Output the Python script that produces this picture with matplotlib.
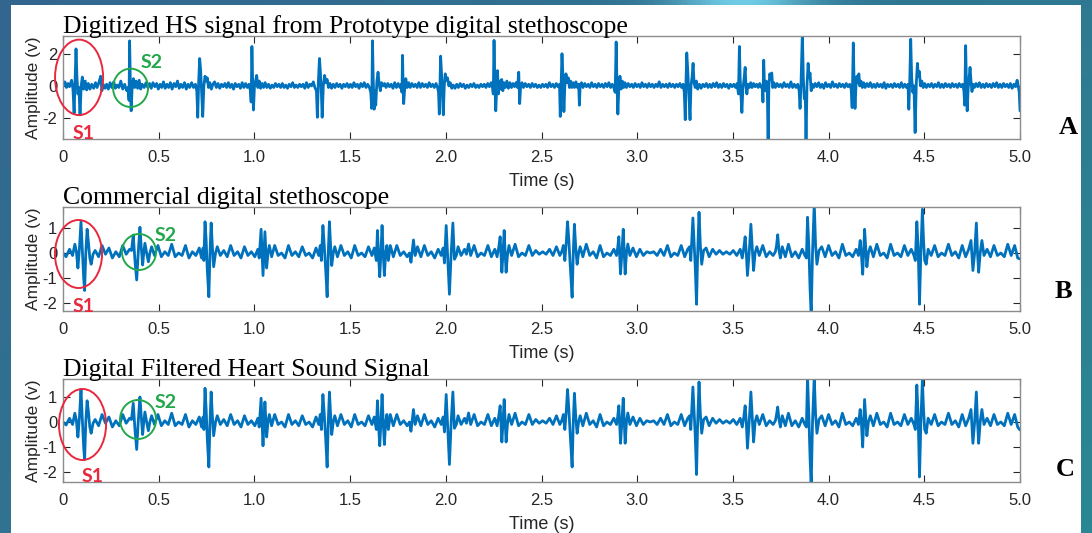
import numpy as np
import matplotlib
matplotlib.use("Agg")
import matplotlib.pyplot as plt
from matplotlib.patches import Ellipse, Rectangle

plt.rcParams["font.family"] = ["Liberation Sans", "DejaVu Sans"]
plt.rcParams["axes.unicode_minus"] = False

W, H = 1092, 533

# ---------------------------------------------------------------------------
# Heart-sound traces: (time in s, amplitude in V) vertices
# ---------------------------------------------------------------------------
trace_prototype = [
    (0.000, 0.05), (0.010, 0.25), (0.018, -0.1), (0.026, 0.15), (0.034, -0.05), (0.045, 0.35),
    (0.052, -0.2), (0.058, -1.7), (0.063, 0.3), (0.068, 2.3), (0.073, 0.5), (0.078, -0.5),
    (0.083, -0.1), (0.089, -1.8), (0.095, 0.0), (0.101, 0.55), (0.108, -0.2), (0.116, 0.3),
    (0.124, -0.25), (0.132, 0.15), (0.141, -0.2), (0.150, 0.1), (0.160, -0.15), (0.170, 0.2),
    (0.178, -0.1), (0.186, 0.15), (0.197, 0.6), (0.203, -0.3), (0.210, 0.1), (0.220, -0.15),
    (0.228, 0.1), (0.237, -0.2), (0.246, 0.2), (0.255, -0.1), (0.265, 0.25), (0.274, -0.15),
    (0.283, 0.05), (0.292, -0.1), (0.302, 0.3), (0.312, -0.2), (0.322, 0.1), (0.333, -0.3),
    (0.340, -0.1), (0.345, -0.9), (0.348, 2.8), (0.352, 0.2), (0.356, -1.55), (0.361, -0.2),
    (0.368, 0.45), (0.375, -0.1), (0.382, 0.3), (0.390, -0.15), (0.398, 0.35), (0.406, -0.2),
    (0.414, 0.1), (0.424, -0.1), (0.434, 0.2), (0.443, -0.1), (0.452, 0.15), (0.461, -0.15),
    (0.470, 0.2), (0.480, -0.05), (0.489, 0.15), (0.498, -0.2), (0.507, 0.1), (0.516, -0.1),
    (0.525, 0.25), (0.534, -0.15), (0.543, 0.1), (0.552, -0.1), (0.561, 0.2), (0.570, -0.2),
    (0.580, 0.15), (0.589, -0.05), (0.598, 0.3), (0.607, -0.15), (0.616, 0.1), (0.625, -0.1),
    (0.635, 0.2), (0.644, -0.2), (0.653, 0.1), (0.662, -0.1), (0.672, 0.2), (0.682, -0.1),
    (0.692, 0.1), (0.699, -0.3), (0.704, -1.95), (0.709, 0.3), (0.714, 1.7), (0.719, 1.0),
    (0.724, -0.3), (0.730, -1.9), (0.736, 0.0), (0.742, 0.6), (0.748, 0.3), (0.754, 0.5),
    (0.760, -0.1), (0.767, 0.2), (0.775, -0.2), (0.783, 0.1), (0.792, 0.25), (0.801, -0.1),
    (0.810, 0.15), (0.819, -0.15), (0.828, 0.1), (0.837, -0.05), (0.846, 0.15), (0.855, -0.1),
    (0.864, 0.2), (0.873, -0.1), (0.882, 0.1), (0.891, -0.2), (0.900, 0.15), (0.909, -0.05),
    (0.918, 0.1), (0.927, -0.15), (0.936, 0.2), (0.945, -0.1), (0.954, 0.15), (0.963, -0.1),
    (0.972, 0.1), (0.979, -0.3), (0.983, -1.0), (0.987, 2.45), (0.991, 0.2), (0.995, -1.5),
    (1.000, -0.1), (1.006, 0.3), (1.012, 0.65), (1.018, -0.1), (1.025, 0.3), (1.032, -0.15),
    (1.040, 0.15), (1.048, -0.1), (1.056, 0.2), (1.065, -0.1), (1.074, 0.1), (1.083, -0.15),
    (1.092, 0.05), (1.101, -0.1), (1.110, 0.15), (1.119, -0.05), (1.128, 0.1), (1.137, -0.1),
    (1.146, 0.15), (1.155, -0.1), (1.164, 0.05), (1.173, -0.15), (1.182, 0.1), (1.191, -0.05),
    (1.200, 0.2), (1.209, -0.1), (1.218, 0.05), (1.227, -0.1), (1.236, 0.1), (1.245, -0.05),
    (1.254, 0.1), (1.263, -0.15), (1.272, 0.2), (1.281, -0.1), (1.290, 0.1), (1.299, 0.0),
    (1.308, 0.25), (1.316, -0.1), (1.324, -0.3), (1.329, -1.95), (1.334, 0.2), (1.340, 1.7),
    (1.345, 0.8), (1.350, -0.5), (1.354, -1.95), (1.360, 0.0), (1.367, 0.65), (1.373, 0.2),
    (1.380, 0.4), (1.387, -0.1), (1.395, 0.15), (1.403, -0.15), (1.412, 0.1), (1.421, -0.1),
    (1.430, 0.15), (1.439, -0.05), (1.448, 0.1), (1.457, -0.15), (1.466, 0.1), (1.475, -0.05),
    (1.484, 0.15), (1.493, -0.1), (1.502, 0.1), (1.511, -0.1), (1.520, 0.2), (1.529, -0.05),
    (1.538, 0.1), (1.547, -0.15), (1.556, 0.15), (1.565, -0.05), (1.574, 0.2), (1.583, -0.1),
    (1.592, 0.1), (1.601, -0.1), (1.608, -0.4), (1.613, -1.4), (1.617, 2.8), (1.621, 0.3),
    (1.626, -1.45), (1.630, -0.3), (1.634, -1.2), (1.640, 0.3), (1.646, 0.85), (1.652, 0.1),
    (1.658, -0.3), (1.664, 0.2), (1.672, 0.0), (1.680, 0.15), (1.688, -0.1), (1.697, 0.15),
    (1.706, -0.05), (1.715, 0.1), (1.724, -0.15), (1.733, 0.2), (1.742, -0.1), (1.751, 0.15),
    (1.760, -0.1), (1.767, 0.1), (1.771, -0.4), (1.774, 1.9), (1.777, 0.0), (1.780, -1.1),
    (1.785, -0.2), (1.791, 0.45), (1.798, -0.1), (1.806, 0.2), (1.814, -0.1), (1.823, 0.15),
    (1.832, -0.05), (1.841, 0.1), (1.850, -0.1), (1.859, 0.2), (1.868, -0.1), (1.877, 0.15),
    (1.886, -0.05), (1.895, 0.1), (1.904, -0.1), (1.913, 0.2), (1.922, -0.05), (1.931, 0.1),
    (1.940, -0.1), (1.949, 0.15), (1.957, -0.1), (1.962, -0.4), (1.966, -1.75), (1.970, 0.2),
    (1.973, 1.85), (1.978, 0.7), (1.982, -0.4), (1.987, -1.8), (1.992, 0.0), (1.997, 0.75),
    (2.003, 0.35), (2.009, 0.5), (2.016, 0.0), (2.023, 0.2), (2.031, -0.15), (2.039, 0.05),
    (2.048, -0.15), (2.057, 0.1), (2.066, -0.1), (2.075, 0.15), (2.084, -0.05), (2.093, 0.1),
    (2.102, -0.15), (2.111, 0.05), (2.120, -0.1), (2.129, 0.1), (2.138, -0.05), (2.147, 0.15),
    (2.156, -0.1), (2.165, 0.05), (2.174, -0.1), (2.183, 0.1), (2.192, -0.05), (2.201, 0.1),
    (2.210, -0.1), (2.219, 0.15), (2.228, -0.05), (2.237, 0.2), (2.244, -0.1), (2.248, -0.5),
    (2.252, 2.83), (2.256, 0.3), (2.261, -1.55), (2.266, -0.1), (2.270, 0.95), (2.275, -0.5),
    (2.280, 0.3), (2.286, -0.2), (2.292, 0.4), (2.298, -0.3), (2.304, 0.2), (2.311, -0.1),
    (2.319, 0.3), (2.327, -0.15), (2.335, 0.2), (2.343, -0.1), (2.351, 0.15), (2.359, -0.05),
    (2.367, 0.2), (2.375, -0.1), (2.381, 0.85), (2.386, -1.1), (2.391, 0.0), (2.398, 0.2),
    (2.406, -0.1), (2.415, 0.15), (2.424, -0.05), (2.433, 0.1), (2.442, -0.1), (2.451, 0.15),
    (2.460, -0.05), (2.469, 0.1), (2.478, -0.1), (2.487, 0.05), (2.496, -0.1), (2.505, 0.1),
    (2.514, -0.05), (2.523, 0.1), (2.532, -0.1), (2.541, 0.2), (2.550, -0.05), (2.559, 0.1),
    (2.568, -0.1), (2.577, 0.15), (2.586, -0.05), (2.594, 0.1), (2.598, -1.9), (2.603, 0.3),
    (2.607, 2.0), (2.612, 0.6), (2.617, -1.6), (2.622, 0.0), (2.628, 0.75), (2.634, 0.2),
    (2.640, 0.5), (2.646, -0.1), (2.652, 0.3), (2.658, -0.1), (2.665, 0.2), (2.672, -0.1),
    (2.680, 0.25), (2.688, -0.1), (2.694, 0.1), (2.698, -1.2), (2.702, 0.0), (2.709, 0.2),
    (2.717, -0.1), (2.726, 0.15), (2.735, -0.05), (2.744, 0.1), (2.753, -0.1), (2.762, 0.2),
    (2.771, -0.05), (2.780, 0.1), (2.789, -0.1), (2.798, 0.15), (2.807, -0.05), (2.816, 0.1),
    (2.825, -0.1), (2.834, 0.15), (2.843, -0.05), (2.852, 0.2), (2.861, -0.1), (2.870, 0.1),
    (2.879, -0.15), (2.885, -0.4), (2.890, 2.73), (2.894, 0.3), (2.899, -1.75), (2.904, -0.1),
    (2.910, 0.6), (2.916, -0.2), (2.922, 0.3), (2.929, -0.1), (2.936, 0.2), (2.944, -0.1),
    (2.953, 0.15), (2.962, -0.05), (2.971, 0.1), (2.980, -0.1), (2.989, 0.15), (2.998, -0.05),
    (3.007, 0.1), (3.016, -0.1), (3.025, 0.2), (3.034, -0.05), (3.043, 0.1), (3.052, -0.1),
    (3.061, 0.15), (3.070, -0.05), (3.079, 0.1), (3.088, -0.1), (3.097, 0.1), (3.106, -0.05),
    (3.115, 0.25), (3.124, -0.1), (3.133, 0.1), (3.142, -0.05), (3.151, 0.1), (3.160, -0.1),
    (3.169, 0.15), (3.178, -0.05), (3.187, 0.1), (3.196, -0.1), (3.205, 0.1), (3.214, -0.05),
    (3.223, 0.15), (3.232, -0.1), (3.240, 0.1), (3.246, -0.4), (3.251, -2.1), (3.255, 0.3),
    (3.259, 2.05), (3.264, 1.0), (3.270, -0.5), (3.276, -2.1), (3.281, 0.0), (3.287, 0.6),
    (3.292, 1.4), (3.297, 0.2), (3.303, -0.1), (3.309, 0.3), (3.316, -0.2), (3.325, 0.1),
    (3.334, -0.15), (3.343, 0.1), (3.352, -0.05), (3.361, 0.15), (3.370, -0.1), (3.379, 0.1),
    (3.388, -0.1), (3.397, 0.15), (3.406, -0.05), (3.415, 0.2), (3.424, -0.1), (3.433, 0.1),
    (3.442, -0.1), (3.451, 0.15), (3.460, -0.05), (3.469, 0.1), (3.478, -0.15), (3.487, 0.1),
    (3.496, -0.05), (3.505, 0.1), (3.514, -0.1), (3.522, 0.15), (3.529, -0.5), (3.534, 2.45),
    (3.538, 0.5), (3.542, -0.6), (3.547, -1.65), (3.552, -0.2), (3.558, 0.4), (3.564, 1.15),
    (3.568, 0.1), (3.573, -0.5), (3.579, 0.1), (3.586, -0.1), (3.593, 0.2), (3.600, -0.1),
    (3.608, 0.15), (3.616, -0.05), (3.624, 0.1), (3.632, -0.1), (3.640, 0.15), (3.648, -0.1),
    (3.654, 0.0), (3.657, -1.0), (3.661, 1.6), (3.665, 0.0), (3.670, -0.3), (3.675, 0.3),
    (3.680, -0.5), (3.684, -3.6), (3.688, 0.0), (3.693, 0.75), (3.698, 0.4), (3.703, 0.8),
    (3.708, -0.1), (3.714, 0.2), (3.722, -0.1), (3.731, 0.15), (3.740, -0.05), (3.749, 0.1),
    (3.758, -0.1), (3.767, 0.2), (3.776, -0.05), (3.785, 0.1), (3.794, -0.1), (3.803, 0.25),
    (3.812, -0.1), (3.821, 0.1), (3.830, -0.1), (3.839, 0.1), (3.846, -0.3), (3.851, -1.4),
    (3.856, 0.2), (3.863, 3.3), (3.868, 0.5), (3.873, -0.8), (3.878, -0.4), (3.882, -3.6),
    (3.887, 0.0), (3.893, 1.4), (3.898, 0.5), (3.903, 0.8), (3.909, -0.3), (3.915, 0.1),
    (3.922, -0.1), (3.930, 0.15), (3.939, -0.05), (3.948, 0.2), (3.957, -0.1), (3.966, 0.1),
    (3.975, -0.15), (3.984, 0.2), (3.993, -0.05), (4.002, 0.1), (4.011, -0.1), (4.020, 0.25),
    (4.029, -0.05), (4.038, 0.1), (4.047, -0.1), (4.056, 0.15), (4.065, -0.05), (4.074, 0.1),
    (4.083, -0.1), (4.092, 0.15), (4.101, -0.05), (4.110, 0.1), (4.118, -0.2), (4.123, -1.35),
    (4.129, 2.67), (4.133, 0.3), (4.138, -1.4), (4.143, 0.0), (4.148, 0.6), (4.153, 0.2),
    (4.158, 0.75), (4.163, 0.0), (4.169, 0.3), (4.176, -0.1), (4.183, 0.2), (4.191, -0.1),
    (4.200, 0.15), (4.209, -0.05), (4.218, 0.2), (4.227, -0.1), (4.236, 0.1), (4.245, -0.1),
    (4.254, 0.15), (4.263, -0.05), (4.272, 0.1), (4.281, -0.1), (4.290, 0.2), (4.299, -0.15),
    (4.308, 0.1), (4.317, -0.05), (4.326, 0.1), (4.335, -0.1), (4.344, 0.15), (4.353, -0.05),
    (4.362, 0.1), (4.371, -0.1), (4.380, 0.2), (4.389, -0.1), (4.398, 0.1), (4.407, -0.1),
    (4.415, 0.1), (4.419, -1.45), (4.424, 0.3), (4.429, 2.9), (4.434, 0.5), (4.440, -0.4),
    (4.446, 0.0), (4.452, -2.9), (4.458, 0.1), (4.464, 1.4), (4.469, 0.6), (4.474, 0.9),
    (4.480, 0.0), (4.487, 0.3), (4.494, -0.1), (4.502, 0.15), (4.511, -0.1), (4.520, 0.1),
    (4.529, -0.05), (4.538, 0.15), (4.547, -0.1), (4.556, 0.1), (4.565, -0.05), (4.574, 0.2),
    (4.583, -0.1), (4.592, 0.1), (4.601, -0.1), (4.610, 0.15), (4.619, -0.05), (4.628, 0.1),
    (4.637, -0.1), (4.646, 0.15), (4.655, -0.05), (4.664, 0.1), (4.673, -0.1), (4.682, 0.15),
    (4.691, -0.05), (4.700, 0.1), (4.707, -0.3), (4.711, -1.2), (4.716, 2.5), (4.720, 0.2),
    (4.724, -1.55), (4.729, -0.2), (4.734, 0.5), (4.739, 1.15), (4.744, 0.3), (4.749, -0.35),
    (4.755, 0.1), (4.762, -0.1), (4.770, 0.15), (4.779, -0.05), (4.788, 0.2), (4.797, -0.1),
    (4.806, 0.1), (4.815, -0.1), (4.824, 0.15), (4.833, -0.05), (4.842, 0.1), (4.851, -0.1),
    (4.860, 0.15), (4.869, -0.05), (4.878, 0.2), (4.887, -0.1), (4.896, 0.1), (4.905, -0.1),
    (4.914, 0.15), (4.923, -0.05), (4.932, 0.1), (4.941, -0.1), (4.950, 0.15), (4.959, -0.15),
    (4.968, 0.1), (4.977, -0.05), (4.985, 0.35), (4.992, -0.1), (4.996, -0.4), (5.000, -1.55),
]

trace_commercial = [
    (0.000, 0.0), (0.016, -0.15), (0.034, 0.15), (0.050, -0.1), (0.062, 0.35), (0.070, 0.05),
    (0.078, -0.6), (0.086, 0.2), (0.094, 1.25), (0.101, 0.1), (0.108, -1.0), (0.113, -1.5),
    (0.119, 0.0), (0.126, 0.95), (0.133, 0.4), (0.140, -0.2), (0.147, -0.45), (0.157, -0.05),
    (0.168, 0.1), (0.186, -0.15), (0.204, 0.3), (0.222, -0.05), (0.240, 0.2), (0.258, -0.2),
    (0.276, 0.05), (0.294, -0.15), (0.312, 0.3), (0.330, -0.05), (0.348, 0.15), (0.358, 0.1),
    (0.367, 0.72), (0.376, -0.3), (0.385, -1.08), (0.393, 0.0), (0.402, 1.03), (0.409, 0.2),
    (0.416, -0.48), (0.422, 0.0), (0.428, 0.39), (0.437, 0.0), (0.446, -0.35), (0.454, 0.0),
    (0.463, 0.25), (0.478, -0.1), (0.496, 0.3), (0.514, -0.15), (0.532, 0.05), (0.550, -0.1),
    (0.568, 0.35), (0.586, -0.15), (0.604, 0.0), (0.622, -0.1), (0.640, 0.3), (0.658, -0.2),
    (0.676, 0.05), (0.694, -0.1), (0.712, 0.2), (0.724, -0.2), (0.732, 0.2), (0.736, -0.3),
    (0.742, 1.25), (0.748, 0.5), (0.754, -0.7), (0.762, -1.75), (0.768, 0.0), (0.774, 1.2),
    (0.780, 0.3), (0.787, -0.55), (0.797, 0.0), (0.806, 0.25), (0.822, -0.1), (0.840, 0.1),
    (0.858, -0.15), (0.876, 0.3), (0.894, -0.1), (0.912, 0.05), (0.930, -0.2), (0.948, 0.25),
    (0.966, -0.1), (0.984, 0.05), (1.002, -0.15), (1.018, 0.15), (1.025, -0.2), (1.035, 0.95),
    (1.040, 0.0), (1.045, -0.9), (1.050, 0.0), (1.055, 0.85), (1.060, 0.0), (1.064, -0.6),
    (1.071, 0.0), (1.078, 0.3), (1.090, -0.15), (1.106, 0.3), (1.124, -0.1), (1.142, 0.0),
    (1.160, -0.2), (1.178, 0.3), (1.196, -0.1), (1.214, 0.05), (1.232, -0.15), (1.250, 0.25),
    (1.268, -0.1), (1.286, 0.0), (1.304, -0.2), (1.322, 0.2), (1.336, -0.1), (1.344, 0.3),
    (1.350, -0.3), (1.358, 1.1), (1.365, 0.3), (1.372, -0.6), (1.380, -1.75), (1.386, 0.0),
    (1.392, 1.25), (1.398, 0.3), (1.404, -0.5), (1.412, 0.0), (1.420, 0.25), (1.434, -0.15),
    (1.452, 0.3), (1.470, -0.1), (1.488, 0.05), (1.506, -0.2), (1.524, 0.3), (1.542, -0.1),
    (1.560, 0.0), (1.578, -0.15), (1.596, 0.25), (1.614, -0.1), (1.626, 0.2), (1.637, -0.3),
    (1.643, 0.9), (1.649, -0.2), (1.655, -0.95), (1.661, 0.0), (1.667, 1.1), (1.673, 0.0),
    (1.679, -0.9), (1.686, 0.0), (1.692, 0.3), (1.700, -0.3), (1.710, 0.3), (1.726, -0.15),
    (1.744, 0.3), (1.762, -0.1), (1.780, 0.05), (1.798, -0.15), (1.810, 0.0), (1.818, -0.37),
    (1.825, 0.1), (1.831, 0.52), (1.840, -0.1), (1.852, 0.25), (1.870, -0.15), (1.888, 0.3),
    (1.906, -0.1), (1.924, 0.05), (1.942, -0.2), (1.960, 0.15), (1.976, -0.1), (1.986, 0.2),
    (1.993, -0.4), (2.002, 1.1), (2.010, -0.2), (2.019, -1.65), (2.028, 0.0), (2.037, 1.2),
    (2.045, -0.25), (2.055, -0.1), (2.064, 0.25), (2.080, -0.1), (2.098, 0.15), (2.108, -0.05),
    (2.119, 0.36), (2.130, -0.1), (2.148, 0.3), (2.166, -0.15), (2.184, 0.0), (2.202, -0.1),
    (2.220, 0.3), (2.238, -0.15), (2.256, 0.15), (2.268, -0.15), (2.276, 0.2), (2.284, 0.65),
    (2.293, -0.77), (2.299, 0.0), (2.305, 0.9), (2.310, 0.0), (2.315, -0.77), (2.322, -0.1),
    (2.330, 0.3), (2.344, -0.1), (2.362, 0.35), (2.380, -0.15), (2.398, 0.0), (2.416, -0.1),
    (2.434, 0.3), (2.452, -0.1), (2.470, 0.1), (2.488, -0.05), (2.506, 0.05), (2.524, -0.05),
    (2.542, 0.15), (2.560, -0.1), (2.578, 0.25), (2.596, -0.1), (2.608, 0.1), (2.614, 0.3),
    (2.622, -0.3), (2.630, 0.5), (2.636, 1.25), (2.643, 0.5), (2.650, -0.5), (2.660, -1.77),
    (2.666, 0.0), (2.672, 1.15), (2.679, 0.2), (2.686, -0.45), (2.694, 0.0), (2.702, 0.25),
    (2.716, -0.15), (2.734, 0.35), (2.752, -0.1), (2.770, 0.05), (2.788, -0.2), (2.806, 0.3),
    (2.824, -0.15), (2.842, 0.0), (2.860, -0.1), (2.878, 0.15), (2.892, -0.1), (2.898, 0.2),
    (2.904, 0.65), (2.913, -0.84), (2.920, 0.0), (2.927, 0.95), (2.932, 0.0), (2.937, -0.84),
    (2.944, 0.0), (2.951, 0.36), (2.962, -0.1), (2.978, 0.2), (2.996, -0.15), (3.014, 0.15),
    (3.032, -0.1), (3.050, 0.05), (3.068, 0.0), (3.086, 0.05), (3.104, -0.1), (3.122, 0.15),
    (3.140, -0.1), (3.158, 0.3), (3.176, -0.15), (3.194, 0.0), (3.212, -0.1), (3.230, 0.3),
    (3.248, -0.15), (3.264, 0.15), (3.274, 0.25), (3.280, -0.3), (3.291, 1.4), (3.298, 0.3),
    (3.303, -0.5), (3.310, -2.05), (3.316, 0.0), (3.323, 1.63), (3.330, 0.3), (3.337, -0.45),
    (3.347, 0.1), (3.360, 0.2), (3.376, -0.15), (3.394, 0.15), (3.412, -0.05), (3.430, 0.1),
    (3.448, -0.05), (3.466, 0.05), (3.484, -0.05), (3.502, 0.1), (3.520, -0.1), (3.538, 0.15),
    (3.549, -0.2), (3.557, 0.2), (3.564, 0.65), (3.570, 0.0), (3.576, -0.9), (3.585, 0.0),
    (3.594, 1.15), (3.601, 0.2), (3.608, -0.7), (3.616, 0.0), (3.625, 0.25), (3.638, -0.1),
    (3.656, 0.3), (3.674, -0.15), (3.692, 0.05), (3.710, -0.1), (3.722, 0.05), (3.728, 0.3),
    (3.734, 0.73), (3.741, 0.1), (3.748, -0.2), (3.758, 0.25), (3.774, -0.15), (3.790, 0.35),
    (3.808, -0.15), (3.826, 0.05), (3.844, -0.2), (3.862, 0.15), (3.876, -0.1), (3.884, -0.2),
    (3.890, 1.43), (3.897, 0.2), (3.903, -1.4), (3.909, -2.5), (3.916, 0.0), (3.925, 2.0),
    (3.932, 0.3), (3.939, -0.45), (3.950, 0.1), (3.964, 0.25), (3.982, -0.15), (4.000, 0.3),
    (4.018, -0.1), (4.036, 0.05), (4.054, -0.2), (4.072, 0.35), (4.090, -0.1), (4.108, 0.0),
    (4.126, -0.15), (4.144, 0.15), (4.156, -0.1), (4.165, 0.5), (4.171, 0.0), (4.178, -0.85),
    (4.183, 0.0), (4.188, 0.95), (4.194, 0.2), (4.200, -0.55), (4.208, 0.0), (4.218, 0.25),
    (4.234, -0.15), (4.252, 0.35), (4.270, -0.1), (4.288, 0.0), (4.306, -0.2), (4.324, 0.35),
    (4.342, -0.1), (4.360, 0.0), (4.378, -0.15), (4.396, 0.3), (4.414, -0.1), (4.432, 0.15),
    (4.446, -0.1), (4.453, -0.3), (4.461, 1.25), (4.468, 0.2), (4.475, -2.05), (4.482, 0.0),
    (4.490, 1.75), (4.496, 0.5), (4.502, -0.3), (4.510, -0.45), (4.520, 0.15), (4.536, -0.1),
    (4.554, 0.3), (4.572, -0.15), (4.590, 0.0), (4.608, -0.1), (4.626, 0.35), (4.644, -0.1),
    (4.662, 0.05), (4.680, -0.2), (4.698, 0.3), (4.716, -0.15), (4.732, 0.15), (4.744, 0.5),
    (4.754, -0.7), (4.763, 0.0), (4.772, 1.2), (4.778, 0.0), (4.784, -0.77), (4.792, 0.0),
    (4.801, 0.5), (4.812, -0.1), (4.828, 0.15), (4.846, -0.15), (4.864, 0.3), (4.882, -0.1),
    (4.900, 0.0), (4.918, -0.15), (4.936, 0.35), (4.954, -0.1), (4.972, 0.3), (4.988, -0.2),
    (5.000, -0.24),
]

trace_filtered = [
    (0.000, 0.0), (0.016, -0.12), (0.034, 0.15), (0.050, -0.1), (0.062, 0.35), (0.070, 0.05),
    (0.078, -0.6), (0.086, 0.2), (0.094, 1.3), (0.101, 0.1), (0.108, -1.0), (0.113, -1.5),
    (0.119, 0.0), (0.126, 0.85), (0.133, 0.4), (0.140, -0.2), (0.147, -0.45), (0.157, -0.05),
    (0.168, 0.1), (0.186, -0.15), (0.204, 0.3), (0.222, -0.05), (0.240, 0.2), (0.258, -0.2),
    (0.276, 0.05), (0.294, -0.15), (0.312, 0.3), (0.330, -0.05), (0.348, 0.15), (0.358, 0.1),
    (0.367, 0.75), (0.376, -0.3), (0.385, -1.1), (0.393, 0.0), (0.402, 1.0), (0.409, 0.2),
    (0.416, -0.5), (0.422, 0.0), (0.428, 0.4), (0.437, 0.0), (0.446, -0.35), (0.454, 0.0),
    (0.463, 0.25), (0.478, -0.1), (0.496, 0.3), (0.514, -0.15), (0.532, 0.05), (0.550, -0.1),
    (0.568, 0.35), (0.586, -0.15), (0.604, 0.0), (0.622, -0.1), (0.640, 0.3), (0.658, -0.2),
    (0.676, 0.05), (0.694, -0.1), (0.712, 0.2), (0.724, -0.2), (0.732, 0.2), (0.736, -0.3),
    (0.742, 1.35), (0.748, 0.5), (0.754, -0.7), (0.762, -1.8), (0.768, 0.0), (0.774, 1.2),
    (0.780, 0.3), (0.787, -0.55), (0.797, 0.0), (0.806, 0.25), (0.822, -0.1), (0.840, 0.1),
    (0.858, -0.15), (0.876, 0.3), (0.894, -0.1), (0.912, 0.05), (0.930, -0.2), (0.948, 0.25),
    (0.966, -0.1), (0.984, 0.05), (1.002, -0.15), (1.018, 0.15), (1.025, -0.2), (1.035, 0.95),
    (1.040, 0.0), (1.045, -0.95), (1.050, 0.0), (1.055, 0.8), (1.060, 0.0), (1.064, -0.6),
    (1.071, 0.0), (1.078, 0.3), (1.090, -0.15), (1.106, 0.3), (1.124, -0.1), (1.142, 0.0),
    (1.160, -0.2), (1.178, 0.3), (1.196, -0.1), (1.214, 0.05), (1.232, -0.15), (1.250, 0.25),
    (1.268, -0.1), (1.286, 0.0), (1.304, -0.2), (1.322, 0.2), (1.336, -0.1), (1.344, 0.3),
    (1.350, -0.3), (1.358, 1.1), (1.365, 0.3), (1.372, -0.6), (1.380, -1.8), (1.386, 0.0),
    (1.392, 1.2), (1.398, 0.3), (1.404, -0.5), (1.412, 0.0), (1.420, 0.25), (1.434, -0.15),
    (1.452, 0.3), (1.470, -0.1), (1.488, 0.05), (1.506, -0.2), (1.524, 0.3), (1.542, -0.1),
    (1.560, 0.0), (1.578, -0.15), (1.596, 0.25), (1.614, -0.1), (1.626, 0.2), (1.637, -0.3),
    (1.643, 0.85), (1.649, -0.2), (1.655, -0.95), (1.661, 0.0), (1.667, 1.1), (1.673, 0.0),
    (1.679, -0.9), (1.686, 0.0), (1.692, 0.3), (1.700, -0.3), (1.710, 0.3), (1.726, -0.15),
    (1.744, 0.3), (1.762, -0.1), (1.780, 0.05), (1.798, -0.15), (1.810, 0.0), (1.818, -0.37),
    (1.825, 0.1), (1.831, 0.5), (1.840, -0.1), (1.852, 0.25), (1.870, -0.15), (1.888, 0.3),
    (1.906, -0.1), (1.924, 0.05), (1.942, -0.2), (1.960, 0.15), (1.976, -0.1), (1.986, 0.2),
    (1.993, -0.4), (2.002, 1.1), (2.010, -0.2), (2.019, -1.7), (2.028, 0.0), (2.037, 1.2),
    (2.045, -0.25), (2.055, -0.1), (2.064, 0.25), (2.080, -0.1), (2.098, 0.15), (2.108, -0.05),
    (2.119, 0.36), (2.130, -0.1), (2.148, 0.3), (2.166, -0.15), (2.184, 0.0), (2.202, -0.1),
    (2.220, 0.3), (2.238, -0.15), (2.256, 0.15), (2.268, -0.15), (2.276, 0.2), (2.284, 0.65),
    (2.293, -0.8), (2.299, 0.0), (2.305, 0.9), (2.310, 0.0), (2.315, -0.8), (2.322, -0.1),
    (2.330, 0.3), (2.344, -0.1), (2.362, 0.35), (2.380, -0.15), (2.398, 0.0), (2.416, -0.1),
    (2.434, 0.3), (2.452, -0.1), (2.470, 0.1), (2.488, -0.05), (2.506, 0.05), (2.524, -0.05),
    (2.542, 0.15), (2.560, -0.1), (2.578, 0.25), (2.596, -0.1), (2.608, 0.1), (2.614, 0.3),
    (2.622, -0.3), (2.630, 0.5), (2.636, 1.3), (2.643, 0.5), (2.650, -0.5), (2.660, -1.8),
    (2.666, 0.0), (2.672, 1.15), (2.679, 0.2), (2.686, -0.45), (2.694, 0.0), (2.702, 0.25),
    (2.716, -0.15), (2.734, 0.35), (2.752, -0.1), (2.770, 0.05), (2.788, -0.2), (2.806, 0.3),
    (2.824, -0.15), (2.842, 0.0), (2.860, -0.1), (2.878, 0.15), (2.892, -0.1), (2.898, 0.2),
    (2.904, 0.65), (2.913, -0.85), (2.920, 0.0), (2.927, 0.95), (2.932, 0.0), (2.937, -0.85),
    (2.944, 0.0), (2.951, 0.36), (2.962, -0.1), (2.978, 0.2), (2.996, -0.15), (3.014, 0.15),
    (3.032, -0.1), (3.050, 0.05), (3.068, 0.0), (3.086, 0.05), (3.104, -0.1), (3.122, 0.15),
    (3.140, -0.1), (3.158, 0.3), (3.176, -0.15), (3.194, 0.0), (3.212, -0.1), (3.230, 0.3),
    (3.248, -0.15), (3.264, 0.15), (3.274, 0.25), (3.280, -0.3), (3.291, 1.4), (3.298, 0.3),
    (3.303, -0.5), (3.310, -2.1), (3.316, 0.0), (3.323, 1.6), (3.330, 0.3), (3.337, -0.45),
    (3.347, 0.1), (3.360, 0.2), (3.376, -0.15), (3.394, 0.15), (3.412, -0.05), (3.430, 0.1),
    (3.448, -0.05), (3.466, 0.05), (3.484, -0.05), (3.502, 0.1), (3.520, -0.1), (3.538, 0.15),
    (3.549, -0.2), (3.557, 0.2), (3.564, 0.65), (3.570, 0.0), (3.576, -1.05), (3.585, 0.0),
    (3.594, 1.2), (3.601, 0.2), (3.608, -0.8), (3.616, 0.0), (3.625, 0.25), (3.638, -0.1),
    (3.656, 0.3), (3.674, -0.15), (3.692, 0.05), (3.710, -0.1), (3.722, 0.05), (3.728, 0.3),
    (3.734, 0.6), (3.741, 0.1), (3.748, -0.2), (3.758, 0.25), (3.774, -0.15), (3.790, 0.35),
    (3.808, -0.15), (3.826, 0.05), (3.844, -0.2), (3.862, 0.15), (3.876, -0.1), (3.884, -0.2),
    (3.890, 1.8), (3.897, 0.2), (3.903, -1.4), (3.909, -2.6), (3.916, 0.0), (3.925, 1.8),
    (3.932, 0.3), (3.939, -0.45), (3.950, 0.1), (3.964, 0.25), (3.982, -0.15), (4.000, 0.3),
    (4.018, -0.1), (4.036, 0.05), (4.054, -0.2), (4.072, 0.35), (4.090, -0.1), (4.108, 0.0),
    (4.126, -0.15), (4.144, 0.15), (4.156, -0.1), (4.165, 0.5), (4.171, 0.0), (4.178, -1.0),
    (4.183, 0.0), (4.188, 0.9), (4.194, 0.2), (4.200, -0.55), (4.208, 0.0), (4.218, 0.25),
    (4.234, -0.15), (4.252, 0.35), (4.270, -0.1), (4.288, 0.0), (4.306, -0.2), (4.324, 0.35),
    (4.342, -0.1), (4.360, 0.0), (4.378, -0.15), (4.396, 0.3), (4.414, -0.1), (4.432, 0.15),
    (4.446, -0.1), (4.453, -0.3), (4.461, 1.48), (4.468, 0.2), (4.475, -2.2), (4.482, 0.0),
    (4.490, 1.68), (4.496, 0.5), (4.502, -0.3), (4.510, -0.45), (4.520, 0.15), (4.536, -0.1),
    (4.554, 0.3), (4.572, -0.15), (4.590, 0.0), (4.608, -0.1), (4.626, 0.35), (4.644, -0.1),
    (4.662, 0.05), (4.680, -0.2), (4.698, 0.3), (4.716, -0.15), (4.732, 0.15), (4.744, 0.5),
    (4.754, -0.85), (4.763, 0.0), (4.772, 1.2), (4.778, 0.0), (4.784, -0.85), (4.792, 0.0),
    (4.801, 0.5), (4.812, -0.1), (4.828, 0.15), (4.846, -0.15), (4.864, 0.3), (4.882, -0.1),
    (4.900, 0.0), (4.918, -0.15), (4.936, 0.35), (4.954, -0.1), (4.972, 0.3), (4.988, -0.2),
    (5.000, -0.32),
]

titles = [
    "Digitized HS signal from Prototype digital stethoscope",
    "Commercial digital stethoscope",
    "Digital Filtered Heart Sound Signal",
]
panel_letters = ["A", "B", "C"]
x_ticks = [0, 0.5, 1.0, 1.5, 2.0, 2.5, 3.0, 3.5, 4.0, 4.5, 5.0]
x_tick_labels = ["0", "0.5", "1.0", "1.5", "2.0", "2.5", "3.0", "3.5", "4.0", "4.5", "5.0"]
y_ticks = [[-2, 0, 2], [-2, -1, 0, 1], [-2, -1, 0, 1]]
y_limits = [(-3.3, 3.1), (-2.32, 1.84), (-2.4, 1.72)]

# S1 / S2 callouts per panel: (centre t, centre v, width s, height V)
s1_rings = [(0.084, 0.53, 0.251, 4.69), (0.081, -0.04, 0.246, 2.72), (0.102, -0.10, 0.246, 2.84)]
s2_rings = [(0.353, -0.12, 0.183, 2.38), (0.397, 0.04, 0.178, 1.44), (0.392, 0.10, 0.188, 1.56)]
s1_text_pos = [(0.105, -2.94), (0.105, -2.12), (0.152, -2.16)]
s2_text_pos = [(0.465, 1.44), (0.538, 0.72), (0.538, 0.80)]

# ---------------------------------------------------------------------------
# Figure
# ---------------------------------------------------------------------------
fig = plt.figure(figsize=(W / 100, H / 100), dpi=100)

# slide-style gradient frame behind a white sheet
bg = fig.add_axes([0, 0, 1, 1], zorder=-10)
gy, gx = np.mgrid[0:1:160j, 0:1:320j]
c_tl = np.array([0.20, 0.40, 0.56])
c_br = np.array([0.17, 0.53, 0.58])
mix = (0.6 * gx + 0.4 * gy)[..., None]
rgb = c_tl * (1 - mix) + c_br * mix
glow = np.exp(-((gx - 0.68) ** 2) / 0.004 - (gy ** 2) / 0.002)[..., None]
rgb = np.clip(rgb + glow * np.array([0.25, 0.35, 0.33]), 0, 1)
bg.imshow(rgb, extent=[0, 1, 0, 1], aspect="auto", origin="upper")
bg.add_patch(Rectangle((11 / W, 0), (1081 - 11) / W, 1 - 5 / H,
                       facecolor="white", edgecolor="none"))
bg.set_xlim(0, 1)
bg.set_ylim(0, 1)
bg.axis("off")

axes_px = [(63, 36, 1020, 139), (63, 207, 1020, 311), (63, 379, 1020, 482)]
letter_px = [(1068, 128), (1063, 292), (1065, 469)]
traces = [trace_prototype, trace_commercial, trace_filtered]

line_blue = "#0072BD"
text_grey = "#262626"
ring_red = "#e8283c"
ring_green = "#22a84a"
tick_font = ["Liberation Sans Narrow", "Liberation Sans", "DejaVu Sans"]

for i, (l, t, r, b) in enumerate(axes_px):
    ax = fig.add_axes([l / W, 1 - b / H, (r - l) / W, (b - t) / H])
    data = np.array(traces[i])
    ax.plot(data[:, 0], data[:, 1], color=line_blue, lw=2.0,
            solid_joinstyle="round", solid_capstyle="round")
    ax.set_xlim(0, 5)
    ax.set_ylim(*y_limits[i])
    ax.set_xticks(x_ticks)
    ax.set_xticklabels(x_tick_labels)
    ax.set_yticks(y_ticks[i])
    ax.tick_params(direction="in", length=5, width=0.8, top=True, right=True,
                   labelsize=12, colors=text_grey, pad=8)
    ax.tick_params(axis="y", pad=4)
    for lab in ax.get_xticklabels() + ax.get_yticklabels():
        lab.set_fontfamily(tick_font)
    for sp in ax.spines.values():
        sp.set_color("#8c8c8c")
        sp.set_linewidth(1.0)
    ax.set_xlabel("Time (s)", fontsize=13, color=text_grey, labelpad=5.5)
    ax.set_ylabel("Amplitude (v)", fontsize=12.5, color=text_grey, labelpad=1)
    ax.set_title(titles[i], loc="left", fontfamily="Liberation Serif",
                 fontsize=18.5, pad=2, color="black")

    cx, cy, ew, eh = s1_rings[i]
    ax.add_patch(Ellipse((cx, cy), ew, eh, fill=False, edgecolor=ring_red,
                         lw=1.4, clip_on=False, zorder=5))
    cx, cy, ew, eh = s2_rings[i]
    ax.add_patch(Ellipse((cx, cy), ew, eh, fill=False, edgecolor=ring_green,
                         lw=1.4, clip_on=False, zorder=5))
    ax.text(*s1_text_pos[i], "S1", color=ring_red, fontfamily="Lato",
            fontweight="bold", fontsize=14, ha="center", va="center", clip_on=False)
    ax.text(*s2_text_pos[i], "S2", color=ring_green, fontfamily="Lato",
            fontweight="bold", fontsize=14, ha="center", va="center", clip_on=False)

    lx, ly = letter_px[i]
    fig.text(lx / W, 1 - ly / H, panel_letters[i], fontfamily="Liberation Serif",
             fontweight="bold", fontsize=19, ha="center", va="center")

fig.savefig("out.png", dpi=100)
